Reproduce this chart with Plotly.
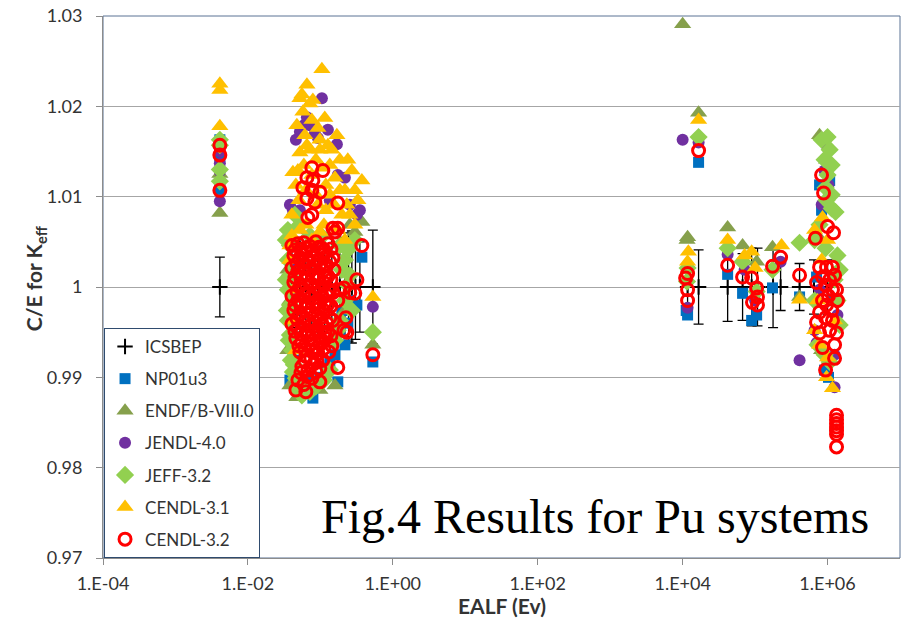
import plotly.graph_objects as go

# ---------------------------------------------------------------------------
# C/E values of Keff versus EALF (eV) for Pu benchmark systems
# ---------------------------------------------------------------------------

# ICSBEP benchmark reference (C/E = 1) with experimental uncertainty
icsbep_ealf = [0.0041,
               0.0405, 0.0459, 0.0522, 0.0631, 0.0763, 0.0924, 0.115, 0.144,
               0.186, 0.218, 0.245, 0.272, 0.305, 0.351, 0.530,
               1.17e4, 1.66e4, 4.18e4, 6.72e4, 8.96e4, 1.08e5, 1.77e5, 2.25e5,
               4.11e5, 6.5e5, 1.0e6]
icsbep_ce = [1.0] * len(icsbep_ealf)
icsbep_err = [0.0033,
              0.0045, 0.0050, 0.0055, 0.0060, 0.0050, 0.0055, 0.0060, 0.0055,
              0.0060, 0.0055, 0.0060, 0.0062, 0.0058, 0.0050, 0.0063,
              0.0027, 0.0041, 0.0038, 0.0037, 0.0043, 0.0043, 0.0045, 0.0026,
              0.0026, 0.0030, 0.0030]

# NP01u3
np01_ealf = [0.0041, 0.0041, 0.0041,
             0.0788, 0.174, 0.0489, 0.0984, 0.0631, 0.119, 0.0716, 0.218,
             0.239, 0.281, 0.255, 0.374, 0.530, 0.038, 0.0445, 0.186, 0.159,
             0.135, 0.198, 0.319,
             1.17e4, 1.12e4, 1.66e4, 4.18e4, 6.72e4, 8.96e4, 1.05e5, 1.74e5,
             4.11e5,
             7.76e5, 1.07e6, 9.1e5, 7.05e5, 1.03e6, 1.17e6, 8.27e5]
np01_ce = [1.0163, 1.0108, 1.0145,
           0.9877, 0.9895, 0.9894, 0.9900, 0.9897, 0.9906, 0.9891, 0.9936,
           0.9960, 0.9978, 0.9985, 1.0033, 0.9917, 0.9897, 0.9919, 0.9952,
           0.9925, 0.9917, 0.9974, 0.9980,
           0.9969, 0.9974, 1.0138, 1.0014, 0.9993, 0.9963, 0.9969, 0.9999,
           0.9989,
           1.0113, 1.0118, 0.9908, 1.0011, 0.9900, 0.9985, 1.0085]

# ENDF/B-VIII.0
endf_ealf = [0.0041, 0.0041,
             0.0474, 0.038, 0.0356, 0.038, 0.0356, 0.0405, 0.374, 0.299,
             0.255, 0.159, 0.0984, 0.530, 0.218,
             1.0e4, 1.17e4, 1.15e4, 1.66e4, 4.18e4, 6.72e4, 1.05e5, 1.74e5,
             4.11e5,
             7.76e5, 9.68e5, 7.28e5, 1.07e6, 8.27e5, 1.25e6]
endf_ce = [1.0082, 1.0125,
           0.9878, 0.9891, 0.9930, 0.9985, 1.0019, 1.0052, 1.0072, 1.0061,
           1.0069, 0.9891, 0.9886, 0.9936, 0.9974,
           1.0291, 1.0055, 1.0052, 1.0193, 1.0066, 1.0046, 1.0028, 1.0044,
           0.9989,
           1.0168, 1.0141, 1.0057, 0.9919, 0.9930, 0.9985]

# JENDL-4.0
jendl_ealf = [0.0041, 0.0041, 0.0041, 0.0041,
              0.105, 0.0652, 0.0522, 0.084, 0.0716, 0.169, 0.0459, 0.127,
              0.038, 0.0418, 0.0522, 0.351, 0.319, 0.255, 0.218, 0.135,
              0.038, 0.0431, 0.0405, 0.0592, 0.0924, 0.174, 0.530,
              1.0e4, 1.17e4, 1.66e4, 4.18e4, 7.17e4, 1.0e5, 2.25e5, 4.11e5,
              1.0e6, 9.1e5, 1.03e6, 8.3e5, 6.62e5, 7.05e5, 1.25e6, 1.25e6,
              7.76e5, 1.37e6]
jendl_ce = [1.0095, 1.0128, 1.0137, 1.0150,
            1.0209, 1.0188, 1.0172, 1.0170, 1.0179, 1.0158, 1.0163, 1.0174,
            1.0091, 1.0085, 1.0085, 1.0085, 1.0080, 1.0091, 1.0121, 1.0096,
            1.0054, 1.0028, 0.9997, 1.0179, 1.0165, 1.0124, 0.9978,
            1.0163, 0.9977, 1.0160, 1.0036, 1.0019, 0.9985, 1.0028, 0.9919,
            1.0154, 1.0129, 1.0113, 1.0091, 0.9952, 0.9938, 0.9925, 0.9889,
            0.9997, 0.9969]

# JEFF-3.2
jeff_ealf = [0.0041, 0.0041, 0.0041, 0.0041,
             0.0356, 0.038, 0.0356, 0.038, 0.0356, 0.038, 0.0356, 0.038,
             0.0405, 0.0431, 0.0459, 0.0489, 0.0556, 0.0716, 0.0867, 0.112,
             0.135,
             0.186, 0.218, 0.255, 0.218, 0.272, 0.186, 0.159, 0.239, 0.299,
             0.0522, 0.0445, 0.0716, 0.105, 0.530,
             0.0334, 0.0334, 0.0345, 0.0367, 0.0392, 0.0418, 0.0522, 0.198,
             0.239, 0.174,
             1.17e4, 1.15e4, 1.66e4, 4.18e4, 6.72e4, 1.05e5, 1.74e5, 4.11e5,
             8.27e5, 1.0e6, 1.07e6, 9.1e5, 1.14e6, 1.0e6, 9.4e5, 1.14e6,
             9.68e5, 1.14e6, 1.29e6, 7.76e5, 6.62e5, 9.4e5, 1.37e6, 1.25e6,
             6.62e5, 1.37e6, 7.28e5, 9.1e5, 1.07e6, 1.47e6, 1.47e6]
jeff_ce = [1.0163, 1.0157, 1.0130, 1.0117,
           1.0063, 1.0046, 1.0030, 1.0013, 0.9997, 0.9980, 0.9963, 0.9947,
           0.9930, 0.9914, 0.9899, 0.9886, 0.9880, 0.9884, 0.9890, 0.9897,
           0.9908,
           1.0046, 1.0030, 1.0013, 0.9985, 0.9974, 0.9963, 0.9941, 1.0041,
           1.0052,
           1.0069, 1.0080, 1.0057, 1.0056, 0.9950,
           1.0052, 1.0008, 0.9974, 0.9941, 0.9919, 0.9906, 0.9891, 1.0019,
           1.0002, 0.9952,
           1.0021, 1.0006, 1.0166, 1.0043, 1.0028, 0.9995, 1.0019, 1.0049,
           1.0163, 1.0166, 1.0152, 1.0141, 1.0135, 1.0124, 1.0110, 1.0102,
           1.0096, 1.0087, 1.0083, 1.0069, 1.0052, 1.0043, 1.0035, 1.0008,
           0.9985, 0.9985, 0.9936, 0.9925, 0.9917, 0.9958, 1.0019]

# CENDL-3.1
cendl31_ealf = [0.0041, 0.0041, 0.0041,
                0.105, 0.0652, 0.0556, 0.0788, 0.0522, 0.0716, 0.0763, 0.169,
                0.127, 0.0652, 0.0522, 0.0984, 0.239, 0.0418, 0.159, 0.374,
                0.299, 0.198, 0.232, 0.135, 0.0867, 0.0592, 0.0459, 0.119,
                0.186, 0.272, 0.0505, 0.0405, 0.174, 0.218, 0.299, 0.0405,
                0.038, 0.0431, 0.0405, 0.0459, 0.0924, 0.119, 0.0631, 0.0984,
                0.135, 0.530,
                0.0474, 0.0611, 0.0924, 0.115, 0.144, 0.186, 0.218, 0.0716,
                0.0489, 0.0763, 0.105, 0.0631, 0.0867, 0.154, 0.0522, 0.0763,
                0.112, 0.038, 0.255, 0.329, 0.0984, 0.0574,
                1.2e4, 1.17e4, 1.66e4, 4.18e4, 7.17e4, 8.96e4, 1.0e5, 2.32e5,
                4.11e5,
                8.53e5, 6.62e5, 1.0e6, 8.3e5, 7.28e5, 1.0e6, 9.68e5, 1.17e6,
                7.76e5, 1.25e6, 6.62e5]
cendl31_ce = [1.0225, 1.0218, 1.0178,
              1.0241, 1.0224, 1.0213, 1.0207, 1.0209, 1.0203, 1.0185, 1.0168,
              1.0157, 1.0157, 1.0149, 1.0152, 1.0141, 1.0127, 1.0121, 1.0118,
              1.0107, 1.0080, 1.0091, 1.0135, 1.0141, 1.0135, 1.0113, 1.0113,
              1.0107, 1.0129, 1.0096, 1.0080, 1.0063, 1.0052, 1.0069, 1.0057,
              1.0030, 0.9997, 0.9963, 0.9930, 1.0091, 1.0085, 1.0069, 1.0061,
              1.0102, 0.9989,
              1.0179, 1.0168, 1.0176, 1.0187, 1.0152, 1.0141, 1.0107, 1.0152,
              1.0129, 1.0124, 1.0132, 1.0107, 1.0102, 1.0091, 1.0063, 1.0052,
              1.0069, 1.0046, 1.0080, 1.0096, 1.0163, 1.0194,
              1.0039, 1.0028, 1.0185, 1.0052, 1.0035, 1.0039, 1.0021, 1.0046,
              0.9986,
              1.0077, 1.0063, 1.0052, 1.0030, 0.9985, 0.9922, 0.9900, 0.9888,
              0.9936, 0.9963, 0.9952]

# CENDL-3.2
cendl32_ealf = [0.0041, 0.0041, 0.0041,
                0.0763, 0.108, 0.0652, 0.0788, 0.0574, 0.0763, 0.0984, 0.0652,
                0.0840, 0.174, 0.0763, 0.0672, 0.149, 0.174, 0.159, 0.374,
                0.0405, 0.0489, 0.0592, 0.0716, 0.0867, 0.105, 0.127,
                0.0431, 0.0522, 0.0631, 0.0763, 0.0924, 0.112, 0.135,
                0.0405, 0.0489, 0.0592, 0.0716, 0.0867, 0.105, 0.127, 0.154,
                0.0431, 0.0522, 0.0631, 0.0763, 0.0924, 0.112, 0.135,
                0.0405, 0.0489, 0.0592, 0.0716, 0.0867, 0.105, 0.127,
                0.0431, 0.0522, 0.0631, 0.0763, 0.0924, 0.112, 0.135,
                0.0405, 0.0489, 0.0592, 0.0716, 0.0867, 0.105, 0.127,
                0.0459, 0.0556, 0.0672, 0.0813, 0.0984, 0.119,
                0.0522, 0.0631, 0.0763, 0.0924, 0.112, 0.144,
                0.0556, 0.0672, 0.0813, 0.0984,
                0.0489, 0.0592, 0.0763, 0.0984, 0.0459, 0.0631,
                0.0445, 0.0539, 0.0652, 0.0788, 0.0954, 0.115, 0.140,
                0.0474, 0.0574, 0.0694, 0.0840, 0.1016, 0.123, 0.149,
                0.0445, 0.0539, 0.0652, 0.0788, 0.0954, 0.115, 0.140,
                0.0474, 0.0574, 0.0694, 0.0840, 0.1016, 0.123, 0.149,
                0.0445, 0.0539, 0.0652, 0.0788, 0.0954, 0.115, 0.140,
                0.0474, 0.0574, 0.0694, 0.0840, 0.1016, 0.123, 0.149,
                0.0445, 0.0539, 0.0652, 0.0788, 0.0954, 0.115, 0.140,
                0.0505, 0.0611, 0.0740, 0.0895, 0.108, 0.131,
                0.0611, 0.0740, 0.0895, 0.108,
                0.0539, 0.0652, 0.0867,
                0.186, 0.211, 0.319, 0.255, 0.299, 0.174, 0.225, 0.211, 0.232,
                0.174, 0.530,
                1.17e4, 1.10e4, 1.17e4, 1.17e4, 1.66e4, 4.18e4, 6.72e4,
                8.96e4, 1.05e5, 1.08e5, 9.2e4, 1.08e5, 1.74e5, 2.25e5, 4.11e5,
                8.27e5, 8.81e5, 1.0e6, 1.21e6, 6.8e5,
                7.76e5, 9.68e5, 1.17e6, 7.05e5, 8.53e5, 1.17e6, 1.33e6, 8.53e5,
                1.03e6, 7.76e5, 7.05e5, 7.76e5, 8.53e5, 1.25e6, 1.33e6, 1.17e6,
                1.14e6, 9.68e5, 1.07e6, 9.4e5, 1.25e6, 1.37e6, 9.4e5, 1.07e6,
                9.4e5, 1.25e6,
                1.33e6, 1.33e6, 1.33e6, 1.33e6, 1.33e6, 1.33e6, 1.33e6]
cendl32_ce = [1.0157, 1.0146, 1.0107,
              1.0132, 1.0129, 1.0121, 1.0118, 1.0110, 1.0107, 1.0105, 1.0098,
              1.0094, 1.0093, 1.0080, 1.0077, 1.0065, 1.0065, 1.0061, 1.0046,
              1.0046, 1.0048, 1.0049, 1.0045, 1.0050, 1.0043, 1.0048,
              1.0035, 1.0032, 1.0039, 1.0034, 1.0030, 1.0036, 1.0028,
              1.0021, 1.0017, 1.0023, 1.0019, 1.0014, 1.0021, 1.0012, 1.0019,
              1.0005, 1.0001, 1.0008, 1.0003, 0.9999, 1.0005, 0.9997,
              0.9990, 0.9985, 0.9992, 0.9988, 0.9983, 0.9990, 0.9981,
              0.9974, 0.9970, 0.9977, 0.9972, 0.9968, 0.9974, 0.9966,
              0.9959, 0.9954, 0.9961, 0.9957, 0.9952, 0.9959, 0.9950,
              0.9943, 0.9939, 0.9946, 0.9941, 0.9937, 0.9943,
              0.9928, 0.9923, 0.9930, 0.9926, 0.9932, 0.9935,
              0.9912, 0.9908, 0.9915, 0.9910,
              0.9897, 0.9892, 0.9899, 0.9895, 0.9886, 0.9884,
              1.0041, 1.0042, 1.0043, 1.0040, 1.0044, 1.0040, 1.0042,
              1.0026, 1.0028, 1.0029, 1.0024, 1.0026, 1.0024, 1.0032,
              1.0011, 1.0010, 1.0014, 1.0011, 1.0009, 1.0012, 1.0008,
              0.9995, 0.9998, 0.9994, 0.9993, 0.9997, 0.9991, 0.9994,
              0.9980, 0.9979, 0.9983, 0.9981, 0.9976, 0.9982, 0.9979,
              0.9965, 0.9967, 0.9963, 0.9961, 0.9966, 0.9960, 0.9963,
              0.9951, 0.9948, 0.9952, 0.9949, 0.9945, 0.9950, 0.9946,
              0.9935, 0.9931, 0.9937, 0.9933, 0.9940, 0.9928,
              0.9918, 0.9921, 0.9918, 0.9919,
              0.9905, 0.9901, 0.9906,
              0.9997, 0.9999, 1.0008, 0.9994, 0.9993, 0.9985, 0.9966, 0.9952,
              0.9950, 0.9911, 0.9925,
              1.0015, 1.0010, 0.9997, 0.9985, 1.0151, 1.0024, 1.0011,
              1.0010, 0.9999, 0.9989, 0.9983, 0.9980, 1.0023, 1.0033, 1.0013,
              1.0124, 1.0104, 1.0067, 1.0060, 1.0054,
              1.0022, 1.0022, 1.0022, 1.0005, 1.0011, 0.9997, 0.9997, 0.9985,
              0.9990, 0.9972, 0.9961, 0.9949, 0.9933, 0.9936, 0.9949, 0.9963,
              0.9974, 0.9980, 1.0008, 1.0002, 1.0013, 0.9985, 0.9966, 0.9952,
              0.9908, 0.9921,
              0.9858, 0.9853, 0.9849, 0.9845, 0.9841, 0.9837, 0.9823]

# axis ticks
y_ticks = [0.97, 0.98, 0.99, 1.00, 1.01, 1.02, 1.03]
y_tick_text = ["0.97", "0.98", "0.99", "1", "1.01", "1.02", "1.03"]
x_ticks = [1e-4, 1e-2, 1e0, 1e2, 1e4, 1e6]
x_tick_text = ["1.E-04", "1.E-02", "1.E+00", "1.E+02", "1.E+04", "1.E+06"]

FONT = "Lato, 'Open Sans', sans-serif"
TEXT_COLOR = "#333333"
GRID = "#A6A6A6"

fig = go.Figure()

fig.add_trace(go.Scatter(
    x=icsbep_ealf, y=icsbep_ce, mode="markers", name="ICSBEP",
    legendgroup="icsbep",
    marker=dict(symbol="cross-thin", size=11, color="black",
                line=dict(width=2, color="black")),
    error_y=dict(type="data", array=icsbep_err, visible=True,
                 color="black", thickness=1.3, width=5),
))

styles = [
    ("NP01u3", np01_ealf, np01_ce,
     dict(symbol="square", size=11, color="#0070C0")),
    ("ENDF/B-VIII.0", endf_ealf, endf_ce,
     dict(symbol="triangle-up", size=15, color="#86A04C")),
    ("JENDL-4.0", jendl_ealf, jendl_ce,
     dict(symbol="circle", size=12, color="#7030A0")),
    ("JEFF-3.2", jeff_ealf, jeff_ce,
     dict(symbol="diamond", size=14, color="#92D050")),
    ("CENDL-3.1", cendl31_ealf, cendl31_ce,
     dict(symbol="triangle-up", size=15, color="#FFC000")),
    ("CENDL-3.2", cendl32_ealf, cendl32_ce,
     dict(symbol="circle-open", size=12, color="#FF0000",
          line=dict(width=3, color="#FF0000"))),
]
for name, xs, ys, mk in styles:
    fig.add_trace(go.Scatter(x=xs, y=ys, mode="markers", name=name,
                             legendgroup=name, marker=mk))

fig.update_layout(
    width=907, height=624,
    margin=dict(l=103, r=7, t=16, b=66),
    paper_bgcolor="white", plot_bgcolor="white",
    font=dict(family=FONT, size=18, color=TEXT_COLOR),
    showlegend=True,
    legend=dict(x=0.0013, y=0, xanchor="left", yanchor="bottom",
                bgcolor="white", bordercolor="#2F4B6E", borderwidth=1,
                font=dict(family=FONT, size=17, color=TEXT_COLOR),
                tracegroupgap=7, itemsizing="trace"),
    xaxis=dict(type="log", range=[-4, 7], tickvals=x_ticks,
               ticktext=x_tick_text, showgrid=False, zeroline=False,
               showline=True, linecolor="#8C8C8C", linewidth=1,
               ticks="outside", ticklen=6, tickcolor="#8C8C8C",
               ticklabelstandoff=3, tickfont=dict(size=18),
               automargin=False),
    yaxis=dict(range=[0.97, 1.03], tickvals=y_ticks, ticktext=y_tick_text,
               showgrid=True, gridcolor=GRID, gridwidth=1, zeroline=False,
               showline=True, linecolor="#8C8C8C", linewidth=1,
               ticks="outside", ticklen=6, tickcolor="#8C8C8C",
               ticklabelstandoff=10, tickfont=dict(size=18),
               automargin=False),
    shapes=[dict(type="rect", xref="paper", yref="paper", x0=0, x1=1,
                 y0=0, y1=1, line=dict(color="#5B7294", width=1),
                 layer="below")],
    annotations=[
        dict(text="<b>EALF (Ev)</b>", xref="paper", yref="paper",
             x=0.5, y=-0.087, xanchor="center", yanchor="middle",
             showarrow=False, font=dict(family=FONT, size=21,
                                        color=TEXT_COLOR)),
        dict(text="<b>C/E for K<sub>eff</sub></b>", xref="paper",
             yref="paper", x=-0.085, y=0.515, textangle=-90,
             xanchor="center", yanchor="middle", showarrow=False,
             font=dict(family=FONT, size=21, color=TEXT_COLOR)),
        dict(text="Fig.4 Results for Pu systems", xref="paper",
             yref="paper", x=0.617, y=0.077, xanchor="center",
             yanchor="middle", showarrow=False,
             font=dict(family="'Liberation Serif', 'Times New Roman', serif",
                       size=48, color="black")),
    ],
)

fig.write_html("out.html")
